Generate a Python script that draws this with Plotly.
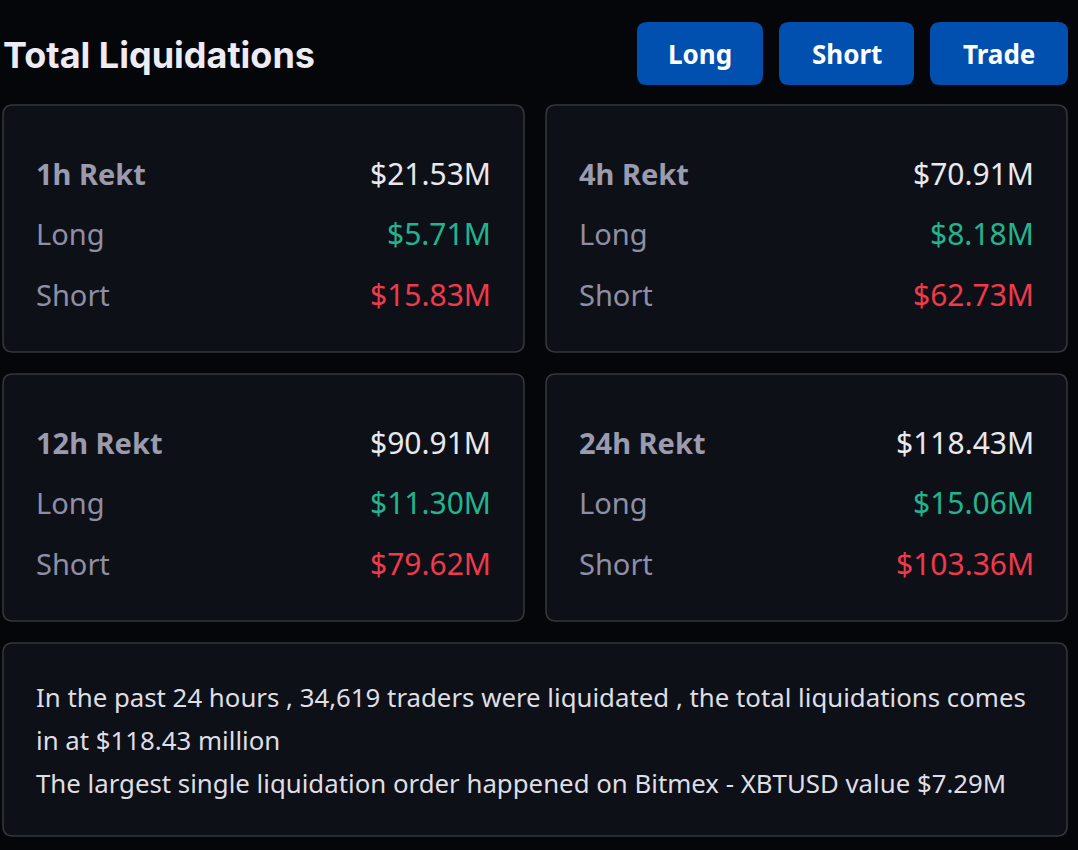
import plotly.graph_objects as go

# Werte aus dem Screenshot
periods = ["1h", "4h", "12h", "24h"]
total_rekt = ["$21.53M", "$70.91M", "$90.91M", "$118.43M"]
long_rekt = ["$5.71M", "$8.18M", "$11.30M", "$15.06M"]
short_rekt = ["$15.83M", "$62.73M", "$79.62M", "$103.36M"]
buttons = ["Long", "Short", "Trade"]
summary_lines = [
    "In the past 24 hours , 34,619 traders were liquidated , the total liquidations comes",
    "in at $118.43 million",
    "The largest single liquidation order happened on Bitmex - XBTUSD value $7.29M",
]

W, H = 1078, 850
FONT = "Noto Sans"
BG = "#05060a"
CARD = "#0e1017"
BORDER = "#33373d"
GREEN = "#22b48f"
RED = "#f03a4c"


def rounded_rect(x0, y0, x1, y1, r):
    # SVG-Pfad fuer ein Rechteck mit runden Ecken
    return (f"M{x0+r},{y0} L{x1-r},{y0} Q{x1},{y0} {x1},{y0+r} "
            f"L{x1},{y1-r} Q{x1},{y1} {x1-r},{y1} L{x0+r},{y1} "
            f"Q{x0},{y1} {x0},{y1-r} L{x0},{y0+r} Q{x0},{y0} {x0+r},{y0} Z")


fig = go.Figure()
shapes = []
annotations = []

# Titel
annotations.append(dict(x=1, y=55, text="<b>Total Liquidations</b>", xanchor="left",
                        yanchor="middle", showarrow=False,
                        font=dict(family="Inter", size=36, color="#ececf2")))

# Buttons oben rechts
btn_x = [(637, 763), (779, 914), (930, 1068)]
for (bx0, bx1), label in zip(btn_x, buttons):
    shapes.append(dict(type="path", path=rounded_rect(bx0, 22, bx1, 85, 10),
                       fillcolor="#0150b0", line=dict(width=0), layer="below"))
    annotations.append(dict(x=(bx0 + bx1) / 2, y=54, text=f"<b>{label}</b>",
                            showarrow=False, xanchor="center", yanchor="middle",
                            font=dict(family=FONT, size=26, color="#ffffff")))

# vier Karten
card_pos = [(3, 105), (546, 105), (3, 374), (546, 374)]
for i, (cx, cy) in enumerate(card_pos):
    shapes.append(dict(type="path", path=rounded_rect(cx, cy, cx + 521, cy + 247, 10),
                       fillcolor=CARD, line=dict(color=BORDER, width=1.5), layer="below"))
    rows = [
        (f"<b>{periods[i]} Rekt</b>", "#9b9bae", total_rekt[i], "#e8e8ee"),
        ("Long", "#8e8fa5", long_rekt[i], GREEN),
        ("Short", "#8e8fa5", short_rekt[i], RED),
    ]
    for j, (lab, lab_col, val, val_col) in enumerate(rows):
        ry = cy + 68 + j * 60.5
        annotations.append(dict(x=cx + 31, y=ry, text=lab, showarrow=False,
                                xanchor="left", yanchor="middle",
                                font=dict(family=FONT, size=29, color=lab_col)))
        annotations.append(dict(x=cx + 490, y=ry, text=val, showarrow=False,
                                xanchor="right", yanchor="middle",
                                font=dict(family=FONT, size=30, color=val_col)))

# Zusammenfassung unten
shapes.append(dict(type="path", path=rounded_rect(3, 643, 1067, 836, 10),
                   fillcolor=CARD, line=dict(color=BORDER, width=1.5), layer="below"))
for k, line in enumerate(summary_lines):
    annotations.append(dict(x=34, y=697 + k * 43, text=line, showarrow=False,
                            xanchor="left", yanchor="middle",
                            font=dict(family=FONT, size=25.8, color="#dedee4")))

fig.update_layout(
    width=W, height=H,
    margin=dict(l=0, r=0, t=0, b=0),
    paper_bgcolor=BG, plot_bgcolor=BG,
    xaxis=dict(range=[0, W], visible=False, fixedrange=True),
    yaxis=dict(range=[H, 0], visible=False, fixedrange=True),
    shapes=shapes, annotations=annotations,
    showlegend=False,
)

# Browser-Rand entfernen, damit die Seite genau 1078x850 zeigt
fig.write_html("out.html", config={"displayModeBar": False},
               post_script="document.body.style.margin='0';"
                           "document.body.style.background='#05060a';"
                           "document.body.style.overflow='hidden';")
